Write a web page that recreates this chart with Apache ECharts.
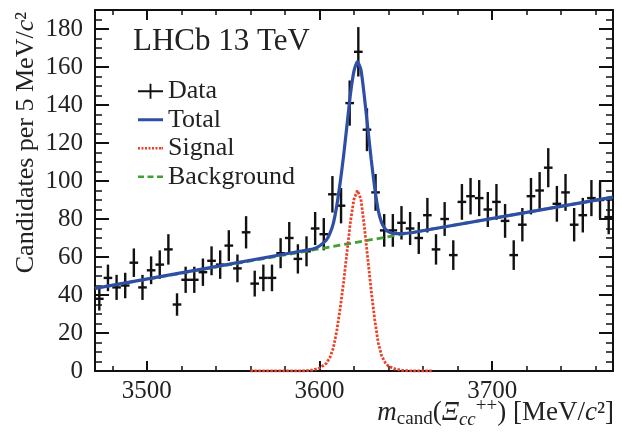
<!DOCTYPE html>
<html>
<head>
<meta charset="utf-8">
<script src="https://cdn.jsdelivr.net/npm/echarts@6.0.0/dist/echarts.min.js"></script>
<style>
  html, body { margin: 0; padding: 0; background: #fff; }
  #main { width: 622px; height: 437px; }
</style>
</head>
<body>
<div id="main"></div>
<script>
// bin centres of the 5 MeV bins
const binCenters = [
  3472.5, 3477.5, 3482.5, 3487.5, 3492.5, 3497.5, 3502.5, 3507.5, 3512.5, 3517.5,
  3522.5, 3527.5, 3532.5, 3537.5, 3542.5, 3547.5, 3552.5, 3557.5, 3562.5, 3567.5,
  3572.5, 3577.5, 3582.5, 3587.5, 3592.5, 3597.5, 3602.5, 3607.5, 3612.5, 3617.5,
  3622.5, 3627.5, 3632.5, 3637.5, 3642.5, 3647.5, 3652.5, 3657.5, 3662.5, 3667.5,
  3672.5, 3677.5, 3682.5, 3687.5, 3692.5, 3697.5, 3702.5, 3707.5, 3712.5, 3717.5,
  3722.5, 3727.5, 3732.5, 3737.5, 3742.5, 3747.5, 3752.5, 3757.5, 3762.5, 3767.5
];
const counts = [
  38, 49, 44, 45, 57, 44, 53, 56, 64, 35,
  48, 48, 52, 58, 56, 66, 54, 73, 46, 49,
  49, 62, 70, 59, 63, 75, 72, 93, 87, 141,
  168, 127, 94, 74, 74, 78, 75, 70, 82, 64,
  80, 61, 89, 92, 91, 85, 89, 79, 61, 77,
  92, 95, 107, 88, 94, 77, 82, 91, 90, 81
];
const countErrors = [
  6.2, 7.0, 6.6, 6.7, 7.5, 6.6, 7.3, 7.5, 8.0, 5.9,
  6.9, 6.9, 7.2, 7.6, 7.5, 8.1, 7.3, 8.5, 6.8, 7.0,
  7.0, 7.9, 8.4, 7.7, 7.9, 8.7, 8.5, 9.6, 9.3, 11.9,
  13.0, 11.3, 9.7, 8.6, 8.6, 8.8, 8.7, 8.4, 9.1, 8.0,
  8.9, 7.8, 9.4, 9.6, 9.5, 9.2, 9.4, 8.9, 7.8, 8.8,
  9.6, 9.7, 10.3, 9.4, 9.7, 8.8, 9.1, 9.5, 9.5, 9.0
];

// fit curves
const bkgMass = [3470, 3770];
const bkgFit = [43.5, 91.5];

const sigMass = [3560, 3590, 3596, 3600, 3604, 3606, 3608, 3610, 3612, 3614, 3616, 3618, 3620, 3622,
  3624, 3626, 3628, 3630, 3632, 3634, 3636, 3638, 3640, 3644, 3648, 3654, 3665];
const sigFit = [0, 0, 0.5, 1.5, 4, 7, 12, 21, 33, 47, 63, 79, 90.5, 95,
  90.5, 76, 59, 42, 27, 15, 8, 4.5, 2.5, 1, 0.3, 0, 0];

const totalMass = [3470, 3596, 3600, 3604, 3606, 3608, 3610, 3612, 3614, 3616, 3618, 3620, 3622,
  3624, 3626, 3628, 3630, 3632, 3634, 3636, 3638, 3640, 3644, 3648, 3654, 3770];
const totalFit = [43.5, 64.2, 65.8, 68.9, 72.3, 77.6, 86.9, 99.2, 113.5, 129.9, 146.2, 158, 162.8,
  158.6, 144.5, 127.8, 111.1, 96.4, 84.7, 78.1, 74.9, 73.2, 72.3, 72.3, 72.9, 91.5];

const xMajorTicks = [3500, 3600, 3700];
const xMinorTicks = [3480, 3520, 3540, 3560, 3580, 3620, 3640, 3660, 3680, 3720, 3740, 3760];
const yMajorTicks = [0, 20, 40, 60, 80, 100, 120, 140, 160, 180];
const yMinorTicks = [5, 10, 15, 25, 30, 35, 45, 50, 55, 65, 70, 75, 85, 90, 95, 105, 110, 115,
  125, 130, 135, 145, 150, 155, 165, 170, 175, 185];

const FONT = 'Liberation Serif';
const INK = '#111';
const TXT = '#222';
const BLUE = '#2f4fa6';
const RED = '#e8432a';
const GREEN = '#3da136';

// legend glyphs: cross for data, solid / dotted / dashed strokes for the fits
const ICON_DATA = 'path://M0,7H27V9H0Z M12.5,0H14.5V16H12.5Z';
const ICON_TOTAL = 'path://M0,0H25V3H0Z';
const ICON_SIGNAL = 'path://M0,0H2V2.5H0Z M3.5,0H5.5V2.5H3.5Z M7,0H9V2.5H7Z M10.5,0H12.5V2.5H10.5Z M14,0H16V2.5H14Z M17.5,0H19.5V2.5H17.5Z M21,0H23V2.5H21Z M23.5,0H25V2.5H23.5Z';
const ICON_BKG = 'path://M0,0H6V2.5H0Z M9.5,0H15.5V2.5H9.5Z M19,0H25V2.5H19Z';

const chart = echarts.init(document.getElementById('main'));

function pairs(xs, ys) {
  return xs.map((x, i) => [x, ys[i]]);
}

function renderPoint(params, api) {
  const m = api.value(0);
  const n = api.value(1);
  const e = api.value(2);
  const left = api.coord([m - 2.5, n]);
  const right = api.coord([m + 2.5, n]);
  const top = api.coord([m, n + e]);
  const bottom = api.coord([m, n - e]);
  const style = { stroke: INK, lineWidth: 2.4 };
  return {
    type: 'group',
    children: [
      { type: 'line', shape: { x1: left[0], y1: left[1], x2: right[0], y2: right[1] }, style: style },
      { type: 'line', shape: { x1: top[0], y1: top[1], x2: bottom[0], y2: bottom[1] }, style: style }
    ]
  };
}

const xBase = { type: 'value', min: 3470, max: 3770, splitLine: { show: false } };
const yBase = { type: 'value', min: 0, max: 190, splitLine: { show: false } };
const frameLine = { show: true, onZero: false, lineStyle: { color: INK, width: 2 } };
const plain = (v) => String(v);

// x-axis title, with sub- and superscripts
const xTitle = '{it|m}{sub|cand}{rm|(}{it|Ξ}{subi|cc}{sup|++}{rm|) [MeV/}{it|c}{rm|²]}';

const option = {
  animation: false,
  grid: { left: 95, right: 9, top: 10, bottom: 66, outerBoundsMode: 'none', containLabel: false },
  title: {
    text: 'LHCb 13 TeV',
    left: 133,
    top: 26,
    padding: 0,
    textStyle: { fontFamily: FONT, fontSize: 31, fontWeight: 'normal', color: TXT }
  },
  graphic: [{
    type: 'text',
    right: 8,
    top: 397,
    style: {
      text: xTitle,
      fill: TXT,
      fontFamily: FONT,
      fontSize: 27,
      lineHeight: 32,
      align: 'left',
      rich: {
        it: { fontFamily: FONT, fontSize: 27, fontStyle: 'italic', fill: TXT, lineHeight: 32 },
        rm: { fontFamily: FONT, fontSize: 27, fill: TXT, lineHeight: 32 },
        sub: { fontFamily: FONT, fontSize: 19, fill: TXT, lineHeight: 18, verticalAlign: 'bottom' },
        subi: { fontFamily: FONT, fontSize: 19, fontStyle: 'italic', fill: TXT, lineHeight: 18, verticalAlign: 'bottom' },
        sup: { fontFamily: FONT, fontSize: 19, fill: TXT, lineHeight: 18, verticalAlign: 'top' }
      }
    }
  }],
  legend: {
    orient: 'vertical',
    left: 138,
    top: 77,
    padding: 0,
    itemGap: 0,
    itemWidth: 25,
    itemHeight: 16,
    selectedMode: false,
    textStyle: { fontFamily: FONT, fontSize: 26, color: TXT, lineHeight: 28.5 },
    data: [
      { name: 'Data', icon: ICON_DATA, itemStyle: { color: INK } },
      { name: 'Total', icon: ICON_TOTAL, itemStyle: { color: BLUE } },
      { name: 'Signal', icon: ICON_SIGNAL, itemStyle: { color: RED } },
      { name: 'Background', icon: ICON_BKG, itemStyle: { color: GREEN } }
    ]
  },
  xAxis: [
    Object.assign({}, xBase, {
      position: 'bottom',
      axisLine: frameLine,
      axisTick: { inside: true, length: 10, customValues: xMajorTicks, lineStyle: { color: INK, width: 2 } },
      axisLabel: { customValues: xMajorTicks, formatter: plain, margin: 8, fontFamily: FONT, fontSize: 25, color: TXT }
    }),
    Object.assign({}, xBase, {
      position: 'bottom',
      axisLine: { show: false, onZero: false },
      axisTick: { inside: true, length: 5, customValues: xMinorTicks, lineStyle: { color: INK, width: 1.5 } },
      axisLabel: { show: false }
    }),
    Object.assign({}, xBase, {
      position: 'top',
      axisLine: frameLine,
      axisTick: { inside: true, length: 10, customValues: xMajorTicks, lineStyle: { color: INK, width: 2 } },
      axisLabel: { show: false }
    }),
    Object.assign({}, xBase, {
      position: 'top',
      axisLine: { show: false, onZero: false },
      axisTick: { inside: true, length: 5, customValues: xMinorTicks, lineStyle: { color: INK, width: 1.5 } },
      axisLabel: { show: false }
    })
  ],
  yAxis: [
    Object.assign({}, yBase, {
      position: 'left',
      axisLine: frameLine,
      axisTick: { inside: true, length: 14, customValues: yMajorTicks, lineStyle: { color: INK, width: 2 } },
      axisLabel: { customValues: yMajorTicks, formatter: plain, margin: 12, fontFamily: FONT, fontSize: 25, color: TXT },
      name: 'Candidates per 5 MeV/{it|c}²',
      nameLocation: 'end',
      nameRotate: 90,
      nameGap: -2,
      nameTextStyle: {
        align: 'right',
        verticalAlign: 'bottom',
        padding: [0, 0, 56, 0],
        fontFamily: FONT, fontSize: 26, color: TXT,
        rich: {
          it: { fontFamily: FONT, fontSize: 26, fontStyle: 'italic', color: TXT }
        }
      }
    }),
    Object.assign({}, yBase, {
      position: 'left',
      axisLine: { show: false, onZero: false },
      axisTick: { inside: true, length: 7, customValues: yMinorTicks, lineStyle: { color: INK, width: 1.5 } },
      axisLabel: { show: false }
    }),
    Object.assign({}, yBase, {
      position: 'right',
      axisLine: frameLine,
      axisTick: { inside: true, length: 14, customValues: yMajorTicks, lineStyle: { color: INK, width: 2 } },
      axisLabel: { show: false }
    }),
    Object.assign({}, yBase, {
      position: 'right',
      axisLine: { show: false, onZero: false },
      axisTick: { inside: true, length: 7, customValues: yMinorTicks, lineStyle: { color: INK, width: 1.5 } },
      axisLabel: { show: false }
    })
  ],
  series: [
    {
      name: 'Background',
      type: 'line',
      symbol: 'none',
      data: pairs(bkgMass, bkgFit),
      itemStyle: { color: GREEN },
      lineStyle: { color: GREEN, width: 2.8, type: [7, 4] }
    },
    {
      name: 'Signal',
      type: 'line',
      symbol: 'none',
      data: pairs(sigMass, sigFit),
      itemStyle: { color: RED },
      lineStyle: { color: RED, width: 2.8, type: [2.5, 1.5] }
    },
    {
      name: 'Total',
      type: 'line',
      symbol: 'none',
      smooth: 0.2,
      data: pairs(totalMass, totalFit),
      itemStyle: { color: BLUE },
      lineStyle: { color: BLUE, width: 3.2 }
    },
    {
      name: 'Data',
      type: 'custom',
      renderItem: renderPoint,
      itemStyle: { color: INK },
      encode: { x: 0, y: 1 },
      data: binCenters.map((m, i) => [m, counts[i], countErrors[i]])
    }
  ]
};

chart.setOption(option);
</script>
</body>
</html>
